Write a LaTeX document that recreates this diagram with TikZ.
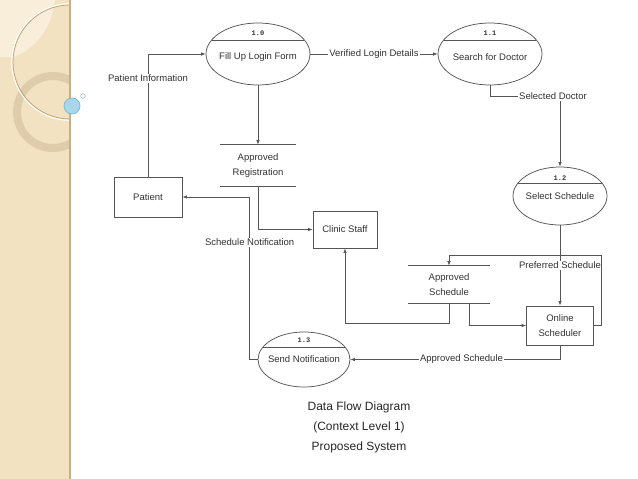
\documentclass[tikz,border=0pt]{standalone}
\usepackage{fontspec}
\setmainfont{Liberation Sans}
\newfontfamily\numfont{Liberation Mono}
\usetikzlibrary{arrows.meta,calc,positioning,shapes.geometric}

\definecolor{lineclr}{HTML}{555555}
\definecolor{textclr}{HTML}{333333}
\definecolor{captionclr}{HTML}{262626}
\definecolor{bandclr}{HTML}{F3E2C2}
\definecolor{bandlight}{HTML}{F8EEDA}
\definecolor{ringclr}{HTML}{D6C4A2}
\definecolor{arcshadow}{HTML}{BCA57C}
\definecolor{edgeclr}{HTML}{C4B089}
\definecolor{dotclr}{HTML}{A8D6EA}
\definecolor{dotedge}{HTML}{7DB7D0}

\newcommand{\dfdfont}{\fontsize{9.5}{14.5}\selectfont}

\begin{document}
\begin{tikzpicture}[x=1pt, y=-1pt, line width=0.7pt,
  proc/.style={draw=lineclr, ellipse, inner sep=0pt, line width=0.75pt},
  procfont/.style={font=\dfdfont, text=textclr, inner sep=0pt},
  procnum/.style={font=\numfont\bfseries\fontsize{7}{8}\selectfont, text=textclr, inner sep=0pt},
  entity/.style={draw=lineclr, rectangle, line width=0.85pt, font=\dfdfont, text=textclr, align=center},
  store/.style={font=\dfdfont, text=textclr, align=center, minimum width=76pt, minimum height=41pt, inner sep=0pt},
  dfline/.style={draw=lineclr},
  flow/.style={draw=lineclr, -{Latex[length=4.5pt,width=3.5pt]}},
  flowlabel/.style={font=\dfdfont, text=textclr, fill=white, inner sep=1pt}]
  \useasboundingbox (0,0) rectangle (638,479);

  % slide band on the left
  \fill[bandclr] (0,0) rectangle (70,479);
  \begin{scope}
    \clip (0,0) rectangle (70,479);
    \fill[bandlight] (0,0) -- (55,0) .. controls (52,28) and (35,50) .. (13,57) -- (0,57) -- cycle;
    \draw[ringclr, line width=8pt, opacity=0.7] (53,112) circle (36);
    \draw[arcshadow, line width=0.8pt] (70,62) circle (57);
    \draw[white, line width=1pt] (70,62) circle (58.3);
  \end{scope}
  \draw[edgeclr, line width=1.5pt] (70,0) -- (70,479);
  \draw[dotedge, fill=dotclr] (72,106) circle (8);
  \draw[dotedge, fill=white, line width=0.5pt] (83,96) circle (2.3);

  % processes
  \node[proc, minimum width=104pt, minimum height=62pt,
        label={[procfont, yshift=-3pt]center:Fill Up Login Form}] (p10) at (258,54) {};
  \path (p10.center) ++(0,-21) node[procnum] (n10) {1.0};
  \draw[dfline] (p10.center) ++(-46,-14) -- ++(92,0);

  \node[proc, minimum width=104pt, minimum height=62pt,
        label={[procfont, yshift=-3pt]center:Search for Doctor}] (p11) at (490,54) {};
  \path (p11.center) ++(0,-21) node[procnum] (n11) {1.1};
  \draw[dfline] (p11.center) ++(-46,-14) -- ++(92,0);

  \node[proc, minimum width=94pt, minimum height=58pt,
        label={[procfont]center:Select Schedule}] (p12) at (560,196) {};
  \path (p12.center) ++(0,-18) node[procnum] (n12) {1.2};
  \draw[dfline] (p12.center) ++(-42,-12.5) -- ++(84,0);

  \node[proc, minimum width=92pt, minimum height=55pt,
        label={[procfont]center:Send Notification}] (p13) at (304,359.5) {};
  \path (p13.center) ++(0,-19) node[procnum] (n13) {1.3};
  \draw[dfline] (p13.center) ++(-41,-12.5) -- ++(82,0);

  % entities
  \node[entity, minimum width=68pt, minimum height=40pt] (patient) at (148,197) {Patient};
  \node[entity, minimum width=64pt, minimum height=37pt] (clinic) at (345,229.5) {Clinic Staff};
  \node[entity, minimum width=67pt, minimum height=39pt] (online) at (560,325.5) {Online\\Scheduler};

  % data stores
  \node[store] (st1) at (258,165.5) {Approved\\Registration};
  \draw[dfline] (st1.north west) -- (st1.north east) (st1.south west) -- (st1.south east);
  \node[store, minimum width=82pt, minimum height=37pt] (st2) at (449,284.5) {Approved\\Schedule};
  \draw[dfline] (st2.north west) -- (st2.north east) (st2.south west) -- (st2.south east);

  \coordinate (jn) at (560,255);
  \coordinate (jr) at (601,255);

  % flows
  \draw[flow] (patient.north) |- node[flowlabel, pos=0.4] {Patient Information} (p10.west);
  \draw[flow] (p10.east) -- node[flowlabel] {Verified Login Details} (p11.west);
  \draw[flow] (p10.south) -- (st1.north);
  \draw[flow] (st1.south) |- (clinic.west);
  \draw[flow] (p11.south) -- ++(0,11) -| node[flowlabel, pos=0.45] {Selected Doctor} (p12.north);
  \draw[dfline] (p12.south) -- (jn);
  \draw[flow] (jn) -| (st2.north);
  \draw[flow] (jn) -- node[flowlabel, pos=0.2] {Preferred Schedule} (online.north);
  \draw[dfline] (jn) -- (jr) |- (online.east);
  \draw[flow] (st2.south) -- ++(0,20) -| (clinic.south);
  \draw[flow] ($(st2.south)!0.5!(st2.south east)$) |- (online.west);
  \draw[flow] (online.south) |- node[flowlabel, pos=0.735] {Approved Schedule} (p13.east);
  \draw[flow] (p13.west) -- ++(-8,0) |- node[flowlabel, pos=0.36] {Schedule Notification} (patient.east);

  % caption
  \node[font=\fontsize{12}{20}\selectfont, text=captionclr, align=center] (caption) at (359,427)
    {Data Flow Diagram\\(Context Level 1)\\Proposed System};
\end{tikzpicture}
\end{document}
